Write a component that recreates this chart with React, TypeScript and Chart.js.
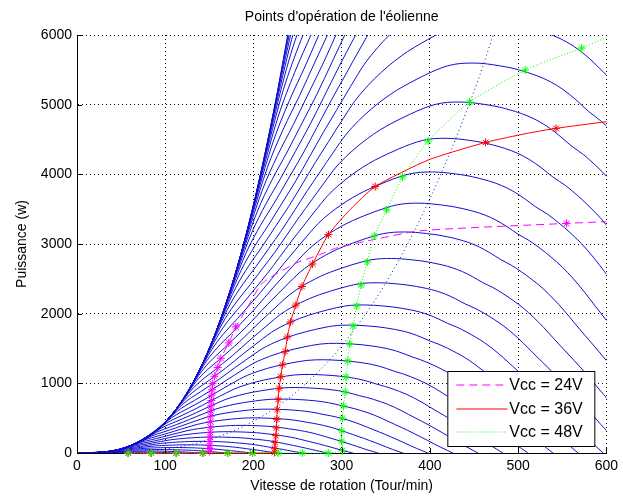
import React, { useEffect, useRef } from "react";
import { Chart, registerables } from "chart.js";

Chart.register(...registerables);

// ---------------- text ----------------
const TITLE = "Points d'opération de l'éolienne";
const X_LABEL = "Vitesse de rotation (Tour/min)";
const Y_LABEL = "Puissance (w)";
const seriesLabels = ["Vcc = 24V", "Vcc = 36V", "Vcc = 48V"];

// ---------------- axes ----------------
const xTickValues = [0, 100, 200, 300, 400, 500, 600];
const yTickValues = [0, 1000, 2000, 3000, 4000, 5000, 6000];

// ---------------- wind-speed curves ----------------
// speed (Tour/min) and power (W) at the top of each blue curve
const curvePeakSpeed = [
  31, 46.5, 62, 77.5, 93, 108.5, 124, 139.5, 155, 170.5, 186, 201.5, 217, 232.5,
  248, 263.5, 279, 294.5, 310, 325.5, 341, 356.5, 372, 387.5, 403, 418.5, 434,
  449.5, 465, 480.5, 496, 511.5, 527, 542.5, 558, 573.5, 589, 604.5, 620, 635.5,
  651, 666.5, 682, 697.5,
];
const curvePeakPower = [
  1.8, 6.2, 14.7, 28.7, 49.6, 78.7, 117.5, 167.3, 229.5, 305.5, 396.6, 504.2,
  629.7, 774.6, 940, 1127.5, 1338.4, 1574.1, 1836, 2125.4, 2443.7, 2792.3, 3172.6,
  3586, 4033.7, 4517.3, 5037.9, 5597.3, 6196.5, 6837, 7520, 8247, 9020, 9840,
  10708, 11625, 12593, 13614, 14688, 15817, 17002, 18246, 19548, 20912,
];
// common shape of a blue curve: speed / peak speed and power / peak power
const shapeSpeedRatio = [
  0, 0.065, 0.129, 0.161, 0.194, 0.226, 0.258, 0.29, 0.323, 0.355, 0.387, 0.419,
  0.452, 0.484, 0.516, 0.548, 0.581, 0.613, 0.645, 0.677, 0.71, 0.742, 0.774,
  0.806, 0.839, 0.871, 0.903, 0.935, 0.968, 1.0, 1.032, 1.065, 1.097, 1.129,
  1.161, 1.194, 1.226, 1.258, 1.29, 1.323, 1.355, 1.387, 1.419, 1.452, 1.484,
  1.516, 1.548, 1.581, 1.613, 1.645, 1.677, 1.71, 1.742, 1.774, 1.806, 1.832,
  1.871, 1.935,
];
const shapePowerRatio = [
  0, 0.002, 0.016, 0.03, 0.052, 0.083, 0.124, 0.176, 0.242, 0.316, 0.383, 0.434,
  0.479, 0.525, 0.571, 0.621, 0.673, 0.721, 0.769, 0.815, 0.852, 0.882, 0.908,
  0.93, 0.949, 0.966, 0.981, 0.993, 0.999, 1.0, 0.998, 0.993, 0.987, 0.978,
  0.967, 0.952, 0.932, 0.906, 0.876, 0.85, 0.819, 0.784, 0.745, 0.697, 0.645,
  0.588, 0.532, 0.475, 0.418, 0.357, 0.296, 0.231, 0.166, 0.105, 0.048, 0,
  -0.074, -0.2,
];

// dotted blue locus
const mppSpeed = [0, 100, 150, 200, 250, 300, 350, 400, 450, 475];
const mppPower = [0, 57, 192, 456, 890, 1540, 2440, 3650, 5190, 6120];

// ---------------- operating points ----------------
const vcc24Speed = [
  58, 84, 112.5, 142.6, 150, 150.5, 150.5, 150.7, 150.9, 151, 151.2, 151.4, 151.6,
  151.8, 152, 152.3, 152.7, 153.2, 153.8, 155.8, 159.5, 163, 172, 180, 191.5, 210,
  248, 274, 293, 334, 390, 555, 600,
];
const vcc24Power = [
  0, 0, 0, 0, 21, 62, 110, 166, 229, 297, 370, 449, 529, 604, 678, 753, 829, 908,
  995, 1101, 1227, 1360, 1580, 1810, 2052, 2436, 2723, 2842, 2938, 3057, 3191,
  3296, 3320,
];
const vcc24Star = [
  1, 1, 1, 1, 1, 1, 1, 1, 1, 1, 1, 1, 1, 1, 1, 1, 1, 1, 1, 1, 1, 1, 1, 1, 0, 0, 0,
  0, 0, 0, 0, 1, 0,
];

const vcc36Speed = [
  58, 84, 112.5, 142.6, 170.8, 199, 224, 224.3, 224.6, 225.5, 226, 226.5, 227, 228,
  229, 231, 233, 236, 238.5, 242, 248, 255, 267, 285, 310, 338, 398, 463, 511, 543,
  600,
];
const vcc36Power = [
  0, 0, 0, 0, 0, 0, 6, 62, 150, 248, 360, 484, 622, 768, 928, 1093, 1265, 1456,
  1665, 1880, 2122, 2390, 2713, 3135, 3500, 3825, 4205, 4458, 4590, 4660, 4756,
];
const vcc36Star = [
  1, 1, 1, 1, 1, 1, 1, 1, 1, 1, 1, 1, 1, 1, 1, 1, 1, 1, 1, 1, 1, 1, 1, 1, 0, 1, 0,
  1, 0, 1, 0,
];

const vcc48Speed = [
  58, 84, 112.5, 142.6, 170.8, 199, 228, 255.4, 284.8, 301, 300, 300, 301, 302,
  304, 305, 307, 309, 313, 317, 322, 329, 337, 351, 369, 398, 445, 508, 572, 600,
];
const vcc48Power = [
  0, 0, 0, 0, 0, 0, 0, 0, 0, 36, 170, 318, 500, 675, 876, 1091, 1321, 1565, 1823,
  2110, 2411, 2741, 3115, 3488, 3962, 4478, 5038, 5497, 5813, 5965,
];
const vcc48Star = [
  1, 1, 1, 1, 1, 1, 1, 1, 1, 1, 1, 1, 1, 1, 1, 1, 1, 1, 1, 1, 1, 1, 1, 1, 1, 1, 1,
  1, 1, 0,
];

// ---------------- styles ----------------
const FONT = '"Liberation Sans", Arial, Helvetica, sans-serif';
const BLUE = "rgb(16,16,210)";
const MAGENTA = "#ff00ff";
const RED = "#ff0000";
const GREEN = "#00ff00";
const DASH24 = [8, 5];
const DASH36: number[] = [];
const DASH48 = [1, 2];

const toPoints = (xs: number[], ys: number[]) => xs.map((x, i) => ({ x, y: ys[i] }));

const decorPlugin = {
  id: "matlabDecor",
  afterDraw(chart: any) {
    const { ctx, chartArea: a } = chart;
    const xs = chart.scales.x;
    const ys = chart.scales.y;
    ctx.save();
    ctx.setLineDash([]);
    ctx.strokeStyle = "#000";
    ctx.lineWidth = 1;
    // inward tick marks
    xTickValues.forEach((v) => {
      const px = Math.round(xs.getPixelForValue(v)) + 0.5;
      ctx.beginPath();
      ctx.moveTo(px, a.bottom);
      ctx.lineTo(px, a.bottom - 5);
      ctx.stroke();
    });
    yTickValues.forEach((v) => {
      const py = Math.round(ys.getPixelForValue(v)) + 0.5;
      ctx.beginPath();
      ctx.moveTo(a.left, py);
      ctx.lineTo(a.left + 5, py);
      ctx.stroke();
    });
    // titles
    ctx.fillStyle = "#000";
    ctx.font = `14px ${FONT}`;
    ctx.textAlign = "center";
    ctx.textBaseline = "middle";
    const cx = (a.left + a.right) / 2;
    ctx.fillText(TITLE, cx, 17);
    ctx.fillText(X_LABEL, cx, 486);
    ctx.save();
    ctx.translate(22, (a.top + a.bottom) / 2);
    ctx.rotate(-Math.PI / 2);
    ctx.fillText(Y_LABEL, 0, 0);
    ctx.restore();

    // legend box
    const bw = 147;
    const bh = 75;
    const bx = a.right - 159;
    const by = a.bottom - 82;
    ctx.fillStyle = "#fff";
    ctx.fillRect(bx, by, bw, bh);
    ctx.strokeStyle = "#000";
    ctx.strokeRect(bx + 0.5, by + 0.5, bw, bh);
    const entries = [
      { color: MAGENTA, dash: DASH24 },
      { color: RED, dash: DASH36 },
      { color: GREEN, dash: DASH48 },
    ];
    ctx.textAlign = "left";
    ctx.font = `16px ${FONT}`;
    entries.forEach((e, i) => {
      const y = Math.round(by + 14 + i * 23.5);
      ctx.setLineDash(e.dash);
      ctx.lineWidth = 1.2;
      ctx.strokeStyle = e.color;
      ctx.beginPath();
      ctx.moveTo(bx + 9, y);
      ctx.lineTo(bx + 60, y);
      ctx.stroke();
      ctx.setLineDash([]);
      ctx.fillStyle = "#000";
      ctx.fillText(seriesLabels[i], bx + 62, y + 0.5);
    });
    ctx.restore();
  },
};

export default function App() {
  const canvasRef = useRef<HTMLCanvasElement | null>(null);

  useEffect(() => {
    if (!canvasRef.current) return;

    const blueSets = curvePeakSpeed.map((ns, i) => ({
      label: "",
      data: shapeSpeedRatio.map((r, j) => ({ x: r * ns, y: shapePowerRatio[j] * curvePeakPower[i] })),
      showLine: true,
      borderColor: BLUE,
      borderWidth: 1,
      pointRadius: 0,
      cubicInterpolationMode: "monotone",
      order: 10,
    }));

    const opSet = (label: string, xs: number[], ys: number[], stars: number[], color: string, dash: number[], order: number) => ({
      label,
      data: toPoints(xs, ys),
      showLine: true,
      borderColor: color,
      backgroundColor: color,
      borderWidth: 1,
      borderDash: dash,
      tension: 0.2,
      pointStyle: "star",
      pointRadius: stars.map((s) => (s ? 4 : 0)),
      pointBorderColor: color,
      pointBorderWidth: 1,
      clip: false,
      order,
    });

    const datasets: any[] = [
      ...blueSets,
      {
        label: "",
        data: toPoints(mppSpeed, mppPower),
        showLine: true,
        borderColor: BLUE,
        borderWidth: 1,
        borderDash: [1, 3],
        pointRadius: 0,
        cubicInterpolationMode: "monotone",
        order: 9,
      },
      opSet(seriesLabels[0], vcc24Speed, vcc24Power, vcc24Star, MAGENTA, DASH24, 3),
      opSet(seriesLabels[1], vcc36Speed, vcc36Power, vcc36Star, RED, DASH36, 2),
      opSet(seriesLabels[2], vcc48Speed, vcc48Power, vcc48Star, GREEN, DASH48, 1),
    ];

    const tickFont = { family: FONT, size: 14 };
    const plain = (v: any) => String(v);
    const chart = new Chart(canvasRef.current, {
      type: "scatter",
      data: { datasets },
      options: {
        animation: false,
        responsive: false,
        events: [],
        layout: { padding: { left: 0, right: 14, top: 35, bottom: 0 } },
        elements: { line: { capBezierPoints: false } },
        plugins: {
          legend: { display: false },
          tooltip: { enabled: false },
          title: { display: false },
        },
        scales: {
          x: {
            type: "linear",
            min: 0,
            max: 600,
            ticks: { stepSize: 100, color: "#000", font: tickFont, padding: 5, maxRotation: 0, callback: plain },
            grid: { color: "#000", lineWidth: 1, drawTicks: false },
            border: { display: true, color: "#000", width: 1, dash: [1, 3] },
            afterFit: (s: any) => {
              s.height = 45;
            },
          },
          y: {
            type: "linear",
            min: 0,
            max: 6000,
            ticks: { stepSize: 1000, color: "#000", font: tickFont, padding: 5, callback: plain },
            grid: { color: "#000", lineWidth: 1, drawTicks: false },
            border: { display: true, color: "#000", width: 1, dash: [1, 3] },
            afterFit: (s: any) => {
              s.width = 77;
            },
          },
        },
      } as any,
      plugins: [decorPlugin],
    });

    return () => chart.destroy();
  }, []);

  return (
    <div style={{ position: "fixed", left: 0, top: 0, width: 623, height: 498, background: "#fff" }}>
      <canvas ref={canvasRef} width={623} height={498} style={{ display: "block" }} />
    </div>
  );
}
